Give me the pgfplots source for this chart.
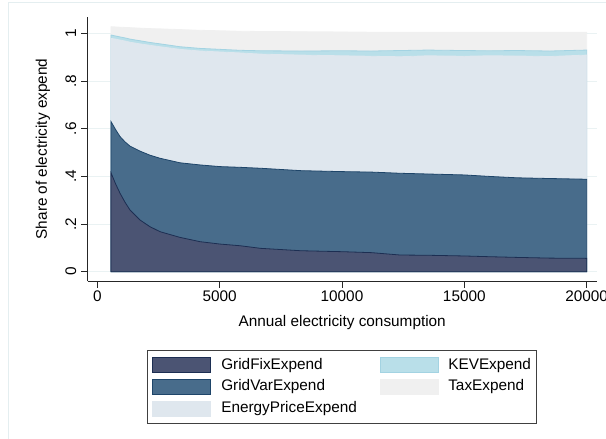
\documentclass[border=0pt]{standalone}
\usepackage{fontspec}
\setmainfont{Liberation Sans}
\usepackage{pgfplots}
\pgfplotsset{compat=1.18}
\usepackage{pgfplotstable}

\definecolor{fixfill}{HTML}{4B5473}
\definecolor{fixline}{HTML}{1C2E52}
\definecolor{varfill}{HTML}{486C8B}
\definecolor{varline}{HTML}{1E4569}
\definecolor{enfill}{HTML}{DFE7EE}
\definecolor{kevfill}{HTML}{B9DFE9}
\definecolor{kevline}{HTML}{A3D3E2}
\definecolor{taxfill}{HTML}{F0F0F0}
\definecolor{gridclr}{HTML}{EAF2F3}
\definecolor{frameclr}{HTML}{E4EEF0}

% cumulative shares (top of each stacked area)
\pgfplotstableread{
x     fix   var   energy kev   tax
560   0.415 0.630 0.979  0.993 1.028
750   0.368 0.596 0.976  0.989 1.027
930   0.329 0.567 0.972  0.985 1.026
1130  0.292 0.545 0.968  0.981 1.025
1336  0.259 0.527 0.963  0.976 1.024
1745  0.217 0.506 0.956  0.969 1.022
2150  0.189 0.489 0.950  0.962 1.020
2563  0.168 0.476 0.944  0.956 1.019
3380  0.144 0.457 0.933  0.944 1.016
4198  0.126 0.448 0.926  0.937 1.013
5015  0.116 0.441 0.922  0.933 1.011
5832  0.109 0.438 0.918  0.929 1.009
6680  0.098 0.434 0.913  0.927 1.008
8320  0.088 0.424 0.909  0.926 1.007
10000 0.084 0.420 0.906  0.927 1.006
11200 0.080 0.418 0.904  0.926 1.005
12380 0.070 0.413 0.902  0.928 1.005
13500 0.069 0.410 0.906  0.930 1.005
15000 0.066 0.406 0.904  0.928 1.005
16000 0.063 0.400 0.906  0.927 1.005
17160 0.060 0.394 0.905  0.928 1.005
18500 0.057 0.391 0.903  0.926 1.005
20000 0.056 0.388 0.909  0.930 1.005
}\datatable

\begin{document}
\begin{tikzpicture}
\path[use as bounding box] (0,0) rectangle (606bp,439bp);
\draw[color=frameclr, line width=0.8bp] (8bp,0) -- (8bp,437bp) -- (606bp,437bp);
\begin{axis}[
  at={(87.7bp,158bp)}, anchor=south west,
  scale only axis, width=509bp, height=264.3bp,
  xmin=-392, xmax=20411, ymin=-0.039, ymax=1.070,
  axis x line*=bottom, axis y line*=left,
  axis line style={line width=0.9bp, color=black!85, -},
  scaled x ticks=false, scaled y ticks=false,
  xtick={0,5000,10000,15000,20000},
  xticklabels={0,5000,10000,15000,20000},
  ytick={0,0.2,0.4,0.6,0.8,1},
  yticklabels={0,.2,.4,.6,.8,1},
  tick align=outside, major tick length=6.5bp,
  tick style={line width=0.8bp, color=black!85},
  ymajorgrids, grid style={line width=0.9bp, color=gridclr},
  tick label style={font=\fontsize{15.4}{18}\selectfont},
  label style={font=\fontsize{15.4}{18}\selectfont},
  yticklabel style={rotate=90, anchor=south, yshift=1.5bp},
  xlabel={Annual electricity consumption},
  ylabel={Share of electricity expend},
  xlabel style={at={(axis description cs:0.5,-0.159)}, anchor=center},
  ylabel style={at={(axis description cs:-0.0878,0.5)}, anchor=center},
  legend image code/.code={\draw[#1, line width=0.8bp] (0bp,-7.5bp) rectangle (58bp,7.5bp);},
  legend columns=2,
  legend cell align=left,
  legend style={at={(axis description cs:0.1159,-0.2611)}, anchor=north west,
    draw=black!75, line width=0.8bp, inner xsep=5.4bp, inner ysep=7bp,
    font=\fontsize{15.4}{18}\selectfont,
    nodes={inner sep=0pt, text height=11bp, text depth=3.5bp},
    row sep=5.8bp,
    /tikz/every odd column/.style={column sep=10bp},
    /tikz/every even column/.style={column sep=22.6bp}},
]
\addplot[fill=taxfill, draw=taxfill, line width=0.8bp, forget plot] table[x=x, y=tax] {\datatable} \closedcycle;
\addplot[fill=kevfill, draw=kevline, line width=0.8bp, forget plot] table[x=x, y=kev] {\datatable} \closedcycle;
\addplot[fill=enfill, draw=enfill, line width=0.8bp, forget plot] table[x=x, y=energy] {\datatable} \closedcycle;
\addplot[fill=varfill, draw=varline, line width=0.8bp, forget plot] table[x=x, y=var] {\datatable} \closedcycle;
\addplot[fill=fixfill, draw=fixline, line width=0.8bp, forget plot] table[x=x, y=fix] {\datatable} \closedcycle;

\addlegendimage{fill=fixfill, draw=fixline}
\addlegendentry{GridFixExpend}
\addlegendimage{fill=kevfill, draw=kevline}
\addlegendentry{KEVExpend}
\addlegendimage{fill=varfill, draw=varline}
\addlegendentry{GridVarExpend}
\addlegendimage{fill=taxfill, draw=taxfill}
\addlegendentry{TaxExpend}
\addlegendimage{fill=enfill, draw=enfill}
\addlegendentry{EnergyPriceExpend}
\end{axis}
\end{tikzpicture}
\end{document}
